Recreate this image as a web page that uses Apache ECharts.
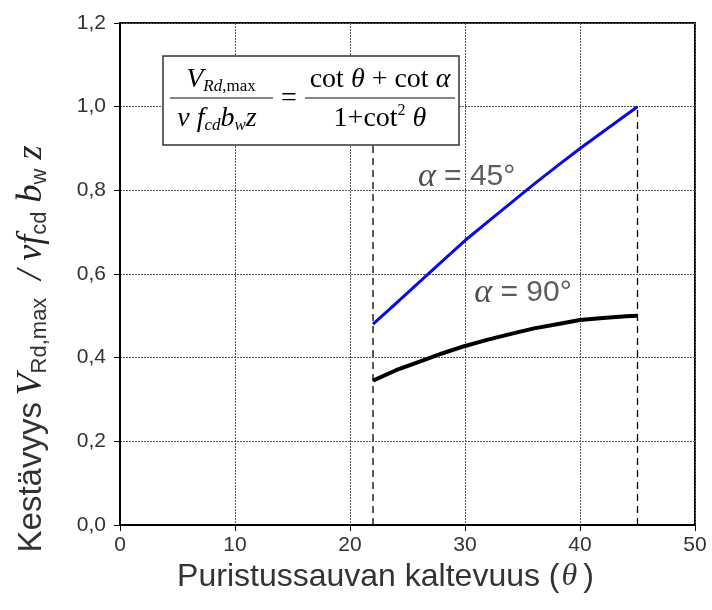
<!DOCTYPE html>
<html lang="fi">
<head>
<meta charset="UTF-8">
<title>Kestävyys</title>
<script src="https://cdn.jsdelivr.net/npm/echarts@6/dist/echarts.min.js"></script>
<style>
  body { margin: 0; background: #fff; }
  #chart { width: 712px; height: 610px; }
</style>
</head>
<body>
<div id="chart"></div>
<script>
// kulma theta (astetta)
const theta = [22, 24, 26, 28, 30, 32, 34, 36, 38, 40, 42, 44, 45];
// alpha = 45
const alpha45 = [0.48, 0.53, 0.58, 0.63, 0.68, 0.725, 0.77, 0.815, 0.858, 0.90, 0.94, 0.98, 1.00];
// alpha = 90
const alpha90 = [0.345, 0.37, 0.39, 0.41, 0.428, 0.443, 0.457, 0.47, 0.48, 0.49, 0.495, 0.499, 0.50];
// katkoviivat rajoille
const limitX = [22, 45];
const limitTop = [1.0, 1.0];
// tekstit käyrien viereen
const curveLabels = [
  { text: '{a|α}{t| = 45°}', x: 25.9, y: 0.832 },
  { text: '{a|α}{t| = 90°}', x: 30.8, y: 0.555 }
];

const chart = echarts.init(document.getElementById('chart'));

const serif = '"Liberation Serif", "DejaVu Serif", serif';
const sans = '"Liberation Sans", Arial, sans-serif';

const labelRich = {
  a: { fontFamily: serif, fontStyle: 'italic', fontSize: 34, color: '#222' },
  t: { fontFamily: sans, fontSize: 30, color: '#333' }
};

const series = [
  {
    type: 'line',
    data: theta.map((t, i) => [t, alpha45[i]]),
    showSymbol: false,
    lineStyle: { color: '#0a0ae6', width: 3 },
    z: 5
  },
  {
    type: 'line',
    data: theta.map((t, i) => [t, alpha90[i]]),
    showSymbol: false,
    lineStyle: { color: '#000', width: 4 },
    z: 5
  },
  {
    type: 'scatter',
    data: curveLabels.map(l => [l.x, l.y]),
    symbolSize: 0.1,
    silent: true,
    label: {
      show: true,
      position: 'right',
      distance: 0,
      formatter: p => curveLabels[p.dataIndex].text,
      rich: labelRich
    },
    z: 6
  }
];

limitX.forEach((x, i) => {
  series.push({
    type: 'line',
    data: [[x, 0], [x, limitTop[i]]],
    showSymbol: false,
    silent: true,
    lineStyle: { color: '#000', width: 1.3, type: [7, 5] },
    z: 4
  });
});

const formulaRich = {
  V: { fontFamily: serif, fontStyle: 'italic', fontSize: 28, color: '#111' },
  s: { fontFamily: serif, fontStyle: 'italic', fontSize: 17, color: '#111', padding: [14, 0, 0, 0] },
  m: { fontFamily: serif, fontSize: 17, color: '#111', padding: [14, 0, 0, 0] },
  i: { fontFamily: serif, fontStyle: 'italic', fontSize: 28, color: '#111' },
  r: { fontFamily: serif, fontSize: 28, color: '#111' },
  sup: { fontFamily: serif, fontSize: 16, color: '#111', padding: [0, 0, 16, 0] }
};

function ftext(str, x, y) {
  return {
    type: 'text',
    z: 101,
    style: {
      text: str, x: x, y: y,
      textAlign: 'center', textVerticalAlign: 'middle',
      align: 'center', verticalAlign: 'middle',
      rich: formulaRich
    }
  };
}

const option = {
  animation: false,
  grid: {
    left: 120, right: 17, top: 23, bottom: 85,
    show: true, borderColor: '#000', borderWidth: 2
  },
  xAxis: {
    type: 'value',
    min: 0, max: 50, interval: 10,
    name: '{n|Puristussauvan kaltevuus (}{t|θ}{n|)}',
    nameLocation: 'middle',
    nameGap: 36,
    nameTextStyle: {
      padding: [0, 44, 0, 0],
      rich: {
        n: { fontFamily: sans, fontSize: 32, color: '#333' },
        t: { fontFamily: serif, fontStyle: 'italic', fontSize: 32, color: '#333', padding: [0, 6, 0, 2] }
      }
    },
    axisLine: { lineStyle: { color: '#000', width: 2 } },
    axisTick: { show: true, length: 6, lineStyle: { color: '#000' } },
    axisLabel: { fontFamily: sans, fontSize: 21, color: '#333', margin: 10 },
    splitLine: { show: true, lineStyle: { color: '#555', width: 1, type: [2, 1] } }
  },
  yAxis: {
    type: 'value',
    min: 0, max: 1.2, interval: 0.2,
    name: '{k|Kestävyys}  {v|V}{s|Rd,max}{v|  / ν}{i|f}{s|cd}{i| b}{s|w}{i| z}',
    nameLocation: 'middle',
    nameRotate: 90,
    nameGap: 69,
    nameTextStyle: {
      padding: [0, 150, 0, 0],
      rich: {
        k: { fontFamily: sans, fontSize: 33, color: '#333' },
        v: { fontFamily: serif, fontStyle: 'italic', fontSize: 36, color: '#222' },
        i: { fontFamily: serif, fontStyle: 'italic', fontSize: 36, color: '#222' },
        s: { fontFamily: sans, fontSize: 22, color: '#333', padding: [16, 0, 0, 0] }
      }
    },
    axisLine: { lineStyle: { color: '#000', width: 2 } },
    axisTick: { show: true, length: 6, lineStyle: { color: '#000' } },
    axisLabel: {
      fontFamily: sans, fontSize: 21, color: '#333', margin: 14,
      formatter: v => v.toFixed(1).replace('.', ',')
    },
    splitLine: { show: true, lineStyle: { color: '#555', width: 1, type: [2, 1] } }
  },
  graphic: [
    {
      type: 'rect',
      z: 100,
      shape: { x: 163, y: 56, width: 296, height: 89 },
      style: { fill: '#fff', stroke: '#333', lineWidth: 1.5 }
    },
    ftext('{V|V}{s|Rd}{m|,max}', 221, 80),
    ftext('{i|ν f}{s|cd}{i|b}{s|w}{i|z}', 217, 119),
    ftext('{r|=}', 289, 99),
    ftext('{r|cot }{i|θ}{r| + cot }{i|α}', 380, 80),
    ftext('{r|1+cot}{sup|2}{r| }{i|θ}', 380, 119),
    {
      type: 'line', z: 101,
      shape: { x1: 170, y1: 98, x2: 273, y2: 98 },
      style: { stroke: '#111', lineWidth: 1.2 }
    },
    {
      type: 'line', z: 101,
      shape: { x1: 305, y1: 98, x2: 455, y2: 98 },
      style: { stroke: '#111', lineWidth: 1.2 }
    }
  ],
  series: series
};

chart.setOption(option);
</script>
</body>
</html>
